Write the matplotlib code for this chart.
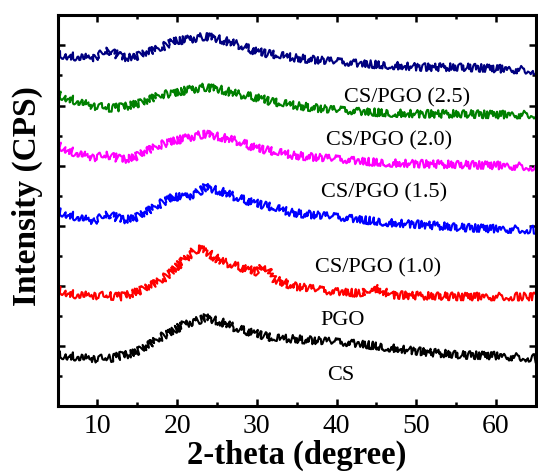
import matplotlib
matplotlib.use("Agg")
import matplotlib.pyplot as plt
from matplotlib.ticker import MultipleLocator

plt.rcParams["font.family"] = ["Liberation Serif", "DejaVu Serif"]

# 2-theta positions (degree) at which the stacked patterns are sampled
two_theta = [5, 7, 9.5, 11.5, 13, 14.5, 16, 18, 19.5, 21, 22.5, 23.5, 25.5,
             27.5, 30, 31, 32, 34.5, 39, 43, 44.5, 47, 51, 55.5, 60, 65]

# Offset intensities (CPS, arbitrary stacked units), bottom to top
cs = [51, 49.5, 47.2, 47.5, 50.3, 52.5, 58, 69, 75, 82, 85, 88.3, 84,
      77.3, 72.2, 70, 67.6, 67.2, 64.3, 61.7, 60.5, 58, 54, 51, 50.3, 47.7]
pgo = [116, 111.5, 110.3, 110, 109.3, 112.5, 117, 125.5, 135.5, 147, 157.5, 155, 144.5,
       139.5, 134, 140, 127.5, 120, 114.3, 112.7, 119, 111, 110, 109.3, 109.3, 109.3]
cs_pgo_10 = [194.3, 189.7, 184.7, 191.5, 186, 186.8, 192.5, 202.5, 209, 208.5, 212.7, 218.5, 214.5,
             208, 202.3, 200.3, 198.2, 193, 189.3, 186, 185, 183, 181, 178.3, 177, 176]
cs_pgo_15 = [260.3, 253.5, 248, 250.5, 246, 247.5, 253.5, 261, 264.5, 267.2, 270, 271.7, 268.5,
             264.5, 257.5, 256, 254.2, 250.5, 247, 244.3, 243.7, 242.8, 241.8, 241, 240.3, 238.7]
cs_pgo_20 = [311, 305.5, 299.5, 297.7, 298.3, 300.7, 303.5, 311, 312, 315, 317, 318.3, 316,
             311.5, 308, 306, 303.5, 300.5, 296, 293.7, 293.3, 292.7, 291.7, 291.7, 291, 291]
cs_pgo_25 = [351, 349, 347.7, 355, 348.3, 347.7, 352, 357.7, 364.3, 365.5, 367.5, 369.3, 366,
             361, 354, 352.5, 351, 348, 344.3, 341.7, 341.2, 340.3, 338.3, 338.3, 337, 335]

series = [cs, pgo, cs_pgo_10, cs_pgo_15, cs_pgo_20, cs_pgo_25]
colors = ["black", "#ff0000", "#0000ff", "#ff00ff", "#008000", "#000080"]

# Sample labels with their anchor positions (2-theta, intensity)
labels = ["CS", "PGO", "CS/PGO (1.0)", "CS/PGO (1.5)", "CS/PGO (2.0)", "CS/PGO (2.5)"]
label_x = [40.5, 40.7, 45.2, 46.0, 46.6, 48.9]
label_y = [30, 85, 138, 213, 265, 308]

fig = plt.figure(figsize=(5.38, 4.74), dpi=100)
ax = fig.add_axes([0.107, 0.1435, 0.889, 0.824])

for ys, c in zip(series, colors):
    line, = ax.plot(two_theta, ys, color=c, lw=1.5, solid_joinstyle="round")
    # rough, noisy stroke typical of raw diffractometer scans
    line.set_sketch_params(scale=4.0, length=0.15, randomness=6)

for t, x, y in zip(labels, label_x, label_y):
    ax.text(x, y, t, ha="center", va="center", fontsize=16)

ax.set_xlim(5, 65)
ax.set_ylim(0, 390)
ax.xaxis.set_major_locator(MultipleLocator(10))
ax.xaxis.set_minor_locator(MultipleLocator(5))
ax.yaxis.set_major_locator(MultipleLocator(60))
ax.yaxis.set_minor_locator(MultipleLocator(30))
ax.tick_params(which="both", direction="in", top=True, right=True, width=1.8)
ax.tick_params(which="major", length=5)
ax.tick_params(which="minor", length=3)
ax.tick_params(axis="x", labelsize=20, pad=6)
ax.set_yticklabels([])
for s in ax.spines.values():
    s.set_linewidth(2.2)

ax.set_xlabel("2-theta (degree)", fontsize=23.5, fontweight="bold", labelpad=0.5)
ax.set_ylabel("Intensity (CPS)", fontsize=24, fontweight="bold")
ax.yaxis.set_label_coords(-0.03, 0.5376)

fig.savefig("out.png", dpi=100)
